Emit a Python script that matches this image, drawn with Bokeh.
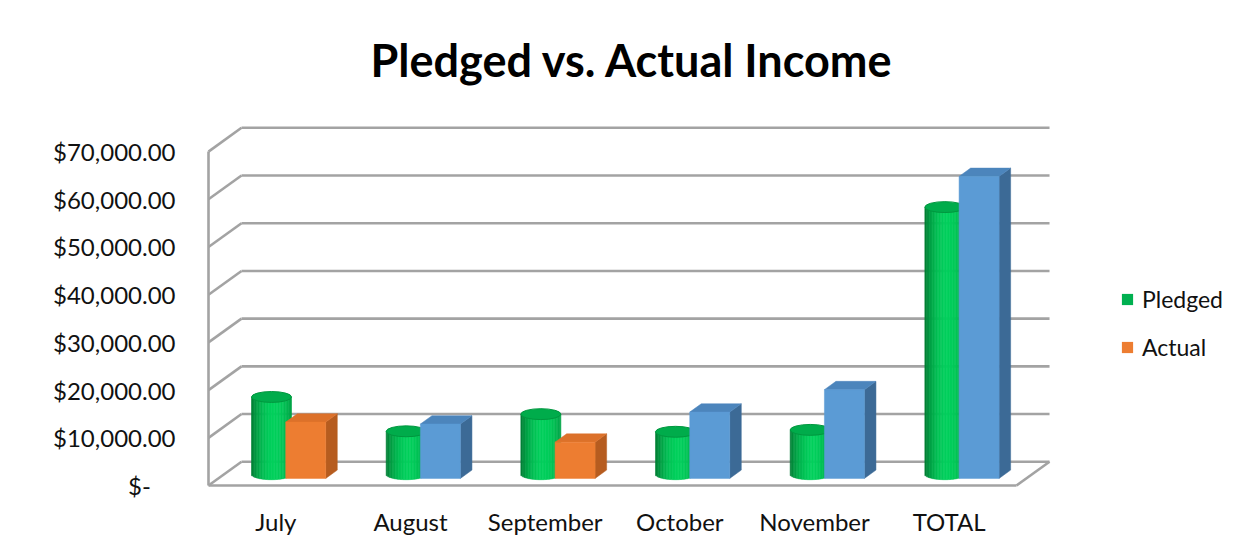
import numpy as np
from bokeh.plotting import figure
from bokeh.models import FixedTicker, NumeralTickFormatter, Legend, LegendItem
from bokeh.embed import file_html
from bokeh.resources import INLINE

# ---------------- data ----------------
categories = ["July", "August", "September", "October", "November", "TOTAL"]
pledged = [16200, 9000, 12600, 8900, 9300, 56000]
actual = [11800, 11400, 7600, 13900, 18600, 63300]
actual_colors = ["orange", "blue", "orange", "blue", "blue", "blue"]
y_ticks = [0, 10000, 20000, 30000, 40000, 50000, 60000, 70000]
series_names = ["Pledged", "Actual"]

# ---------------- geometry / style ----------------
PXX = 134.67           # px per category unit
PXY = 4.82 / 1000.0    # px per value unit
DX = 33 / PXX          # full depth offset (x)
DY = 24 / PXY          # full depth offset (y)
F0, F1 = 0.30, 0.65
FM = (F0 + F1) / 2
BW = 40 / PXX          # bar width
EB = 5.5 / PXY         # cylinder ellipse semi-height
GRID = "#A3A3A3"
FONT = "Lato"

FACE = {"orange": ("#ED7D31", "#DC712A", "#B65C1F"),
        "blue": ("#5B9BD5", "#4C85BC", "#3C6A96")}

ncat = len(categories)
frame_left_px = 206
x0_px = 208
fig_w, fig_h = 1234, 538
frame_top_px = 100
frame_bot_px = 492
zero_px = 489

x_start = -(x0_px - frame_left_px) / PXX
x_end = (fig_w - x0_px) / PXX
y_start = -(frame_bot_px - zero_px) / PXY
y_end = (zero_px - frame_top_px) / PXY

p = figure(width=fig_w, height=fig_h, output_backend="svg", toolbar_location=None,
           x_range=(x_start, x_end), y_range=(y_start, y_end),
           min_border_left=frame_left_px, min_border_right=0,
           min_border_top=frame_top_px,
           min_border_bottom=fig_h - frame_bot_px,
           title="Pledged vs. Actual Income")
p.outline_line_color = None
p.xgrid.visible = False
p.ygrid.visible = False
p.background_fill_color = "white"
p.border_fill_color = "white"

p.title.text_font = FONT
p.title.text_font_style = "bold"
p.title.text_font_size = "45px"
p.title.align = "left"
p.title.offset = 370 - frame_left_px
p.title.standoff = 28
p.title.text_color = "#000000"

# ---------------- walls / grid ----------------
gx0, gy0, gx1, gy1 = [], [], [], []
for t in y_ticks:
    gx0.append(DX); gy0.append(t + DY); gx1.append(ncat + DX); gy1.append(t + DY)
    gx0.append(0); gy0.append(t); gx1.append(DX); gy1.append(t + DY)
gx0 += [0, 0, ncat]; gy0 += [0, 0, 0]
gx1 += [0, ncat, ncat + DX]; gy1 += [y_ticks[-1], 0, DY]
p.segment(x0=gx0, y0=gy0, x1=gx1, y1=gy1, line_color=GRID, line_width=2.6)

# ---------------- cylinders (Pledged) ----------------
def shade(u):
    t = max(0.0, 1 - ((u - 0.15) / 1.15) ** 2)
    dark = np.array([0, 122, 50]); bright = np.array([0, 208, 92])
    c = dark + (bright - dark) * t
    return "#%02x%02x%02x" % tuple(int(round(v)) for v in c)

N = 26
R = BW / 2
cl, cr, cb, ct, cc = [], [], [], [], []
ex, ey = [], []
for i, v in enumerate(pledged):
    cx = i + 0.5 - BW / 2 + FM * DX
    base = FM * DY
    for k in range(N):
        u0 = -1 + 2 * k / N
        u1 = u0 + 2 / N
        um = (u0 + u1) / 2
        cl.append(cx + u0 * R); cr.append(cx + u1 * R)
        cb.append(base - EB * np.sqrt(1 - um ** 2))
        ct.append(base + v)
        cc.append(shade(um))
    ex.append(cx); ey.append(base + v)
p.quad(left=cl, right=cr, bottom=cb, top=ct, fill_color=cc, line_color=cc, line_width=0.6)
p.ellipse(x=ex, y=ey, width=2 * R, height=2 * EB, fill_color="#00AC4B",
          line_color="#00973F", line_width=1)

# ---------------- boxes (Actual) ----------------
BDX = (F1 - F0) * DX
BDY = (F1 - F0) * DY
fl, fr, fb, ft, fc = [], [], [], [], []
txs, tys, tcs, sxs, sys_, scs = [], [], [], [], [], []
for i, v in enumerate(actual):
    x0 = i + 0.5 + F0 * DX
    b = F0 * DY
    t = b + v
    front, top, side = FACE[actual_colors[i]]
    fl.append(x0); fr.append(x0 + BW); fb.append(b); ft.append(t); fc.append(front)
    txs.append([x0, x0 + BW, x0 + BW + BDX, x0 + BDX]); tys.append([t, t, t + BDY, t + BDY]); tcs.append(top)
    sxs.append([x0 + BW, x0 + BW, x0 + BW + BDX, x0 + BW + BDX]); sys_.append([b, t, t + BDY, b + BDY]); scs.append(side)
p.patches(xs=sxs, ys=sys_, fill_color=scs, line_color=scs, line_width=0.5)
p.patches(xs=txs, ys=tys, fill_color=tcs, line_color=tcs, line_width=0.5)
p.quad(left=fl, right=fr, bottom=fb, top=ft, fill_color=fc, line_color=fc, line_width=0.5)

# ---------------- axes ----------------
p.yaxis.ticker = FixedTicker(ticks=y_ticks)
p.yaxis.formatter = NumeralTickFormatter(format="$0,0.00")
p.yaxis.major_label_overrides = {0: "$-\u00a0\u00a0\u00a0\u00a0"}
p.yaxis.axis_line_color = None
p.yaxis.major_tick_line_color = None
p.yaxis.minor_tick_line_color = None
p.yaxis.major_tick_out = 0
p.yaxis.major_label_standoff = 31
p.yaxis.major_label_text_font = FONT
p.yaxis.major_label_text_font_size = "24px"
p.yaxis.major_label_text_color = "#111111"

p.xaxis.ticker = FixedTicker(ticks=[i + 0.5 for i in range(ncat)])
p.xaxis.major_label_overrides = {i + 0.5: c for i, c in enumerate(categories)}
p.xaxis.axis_line_color = None
p.xaxis.major_tick_line_color = None
p.xaxis.minor_tick_line_color = None
p.xaxis.major_tick_out = 0
p.xaxis.major_label_standoff = 18
p.xaxis.major_label_text_font = FONT
p.xaxis.major_label_text_font_size = "24px"
p.xaxis.major_label_text_color = "#111111"

# ---------------- legend ----------------
rp = p.quad(left=[-50], right=[-49], top=[-1e6], bottom=[-1e6 - 1], fill_color="#00B050", line_color=None)
ra = p.quad(left=[-50], right=[-49], top=[-1e6], bottom=[-1e6 - 1], fill_color="#ED7D31", line_color=None)
legend = Legend(items=[LegendItem(label=series_names[0], renderers=[rp]),
                       LegendItem(label=series_names[1], renderers=[ra])],
                location=(1120 - frame_left_px, frame_bot_px - 365),
                padding=0, margin=0, spacing=20,
                glyph_width=14, glyph_height=14, label_height=22, label_standoff=8,
                label_text_font=FONT, label_text_font_size="23px",
                label_text_color="#111111",
                border_line_color=None, background_fill_alpha=0)
p.add_layout(legend)

open("out.html", "w").write(file_html(p, INLINE))
